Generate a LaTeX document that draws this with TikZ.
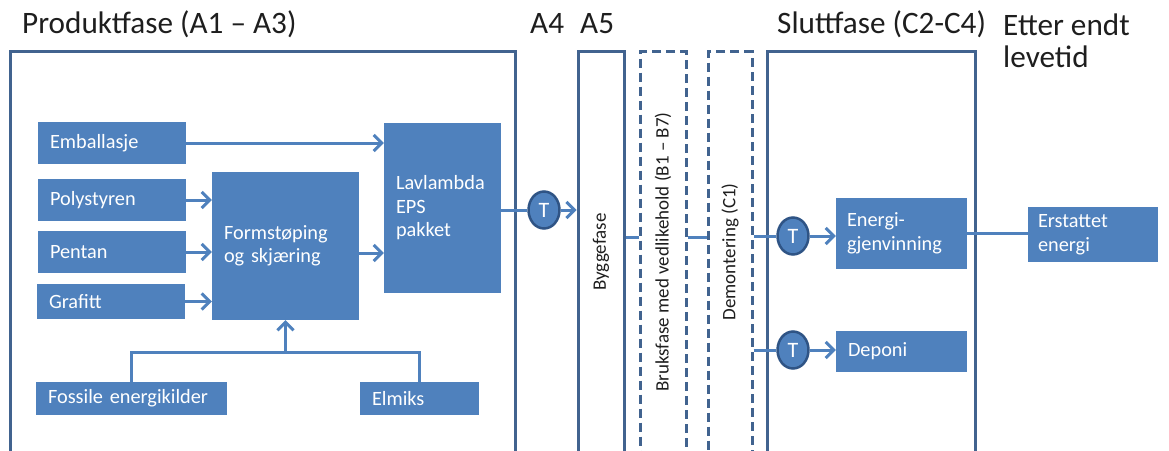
\documentclass[tikz,border=0pt]{standalone}
\usepackage{fontspec}
\setmainfont{Carlito}
\usetikzlibrary{arrows.meta,shapes.geometric}
\definecolor{boksblaa}{HTML}{4F81BD}
\definecolor{rammeblaa}{HTML}{41638F}
\definecolor{ringblaa}{HTML}{2F5485}
\definecolor{tekstgraa}{HTML}{1E1E1E}

\begin{document}
\begin{tikzpicture}[x=1pt,y=1pt]
            \tikzstyle{every node}+=[inner sep=0pt]
            \tikzstyle{fase}=[draw=rammeblaa, line width=3pt, anchor=north, minimum height=405pt]
            \tikzstyle{fasestiplet}=[fase, dash pattern=on 9pt off 5pt]
            \tikzstyle{blokk}=[fill=boksblaa, text=white, align=left, inner xsep=12pt, font=\fontsize{20.3}{23.5}\selectfont]
            \tikzstyle{transport}=[ellipse, fill=boksblaa, draw=ringblaa, line width=2.5pt, minimum width=31pt, minimum height=37pt, text=white, font=\fontsize{22}{22}\selectfont]
            \tikzstyle{linje}=[boksblaa, line width=3pt]
            \tikzstyle{pil}=[linje, -{Straight Barb[length=8pt,width=16pt]}]
            \tikzstyle{tittel}=[anchor=base west, text=tekstgraa, font=\fontsize{31.2}{34}\selectfont]
            \tikzstyle{loddrett}=[rotate=90, text=tekstgraa, font=\fontsize{19}{21}\selectfont]
            \useasboundingbox (0,0) rectangle (1169,-450);
            \node (tprodukt) [tittel] at (22,-33) {Produktfase (A1 – A3)};
            \node (ta4) [tittel] at (530,-33) {A4};
            \node (ta5) [tittel] at (580,-33) {A5};
            \node (tslutt) [tittel] at (777,-33) {Sluttfase (C2-C4)};
            \node (tetter) [tittel] at (1003,-35) {Etter endt};
            \node (tlevetid) [tittel] at (1003,-67) {levetid};
            \node (produkt) [fase, minimum width=505pt] at (262.5,-50) {};
            \node (bygg) [fase, minimum width=46pt] at (601,-50) {};
            \node (bruk) [fasestiplet, minimum width=46pt] at (663,-50) {};
            \node (demont) [fasestiplet, minimum width=44pt] at (730,-50) {};
            \node (slutt) [fase, minimum width=208pt] at (871,-50) {};
            \node (byggtekst) [loddrett] at (601,-252) {Byggefase};
            \node (bruktekst) [loddrett] at (663,-252) {Bruksfase med vedlikehold (B1 – B7)};
            \node (demonttekst) [loddrett] at (730,-252) {Demontering (C1)};
            \node (emb) [blokk, text width=124pt, minimum height=42pt] at (112,-143) {Emballasje};
            \node (poly) [blokk, text width=124pt, minimum height=42pt] at (112,-200) {Polystyren};
            \node (pentan) [blokk, text width=124pt, minimum height=42pt] at (112,-252) {Pentan};
            \node (grafitt) [blokk, text width=124pt, minimum height=35pt] at (111,-301.5) {Grafitt};
            \node (form) [blokk, text width=123pt, minimum height=148pt] at (285.5,-246) {Formstøping\\og skjæring};
            \node (lav) [blokk, text width=93pt, minimum height=170pt] at (442.5,-208) {Lavlambda\\EPS\\pakket};
            \node (foss) [blokk, text width=167pt, minimum height=33pt] at (131.5,-398.5) {Fossile energikilder};
            \node (elm) [blokk, text width=95pt, minimum height=33pt] at (419.5,-398.5) {Elmiks};
            \node (energi) [blokk, text width=109pt, inner xsep=11pt, minimum height=71pt] at (901.5,-233.5) {Energi-\\gjenvinning};
            \node (erstattet) [blokk, text width=110pt, inner xsep=10pt, minimum height=55pt] at (1093,-234.5) {Erstattet\\energi};
            \node (deponi) [blokk, text width=107pt, minimum height=41pt] at (901.5,-351.5) {Deponi};
            \node (t1) [transport] at (544,-210) {T};
            \node (t2) [transport] at (793,-236) {T};
            \node (t3) [transport] at (793,-350) {T};
            \coordinate (knute) at (285.5,-352);
            \draw [pil] (emb.east) -- (emb.east -| lav.west);
            \draw [pil] (poly.east) -- (poly.east -| form.west);
            \draw [pil] (pentan.east) -- (pentan.east -| form.west);
            \draw [pil] (grafitt.east) -- (grafitt.east -| form.west);
            \draw [pil] ([yshift=-7pt]form.east) -- ([yshift=-7pt]form.east -| lav.west);
            \draw [linje] (foss.north) |- (knute) -| (elm.north);
            \draw [pil] (knute) -- (form.south);
            \draw [linje] (lav.east |- t1) -- (t1.west);
            \draw [pil] (t1.east) -- (t1.east -| bygg.west);
            \draw [linje] (bygg.east |- 0,-237) -- (bruk.west |- 0,-237);
            \draw [linje] (bruk.east |- 0,-237) -- (demont.west |- 0,-237);
            \draw [linje] (demont.east |- t2) -- (t2.west);
            \draw [pil] (t2.east) -- (t2.east -| energi.west);
            \draw [linje] (energi.east) -- (energi.east -| erstattet.west);
            \draw [linje] (demont.east |- t3) -- (t3.west);
            \draw [pil] (t3.east) -- (t3.east -| deponi.west);
          \end{tikzpicture}
\end{document}
